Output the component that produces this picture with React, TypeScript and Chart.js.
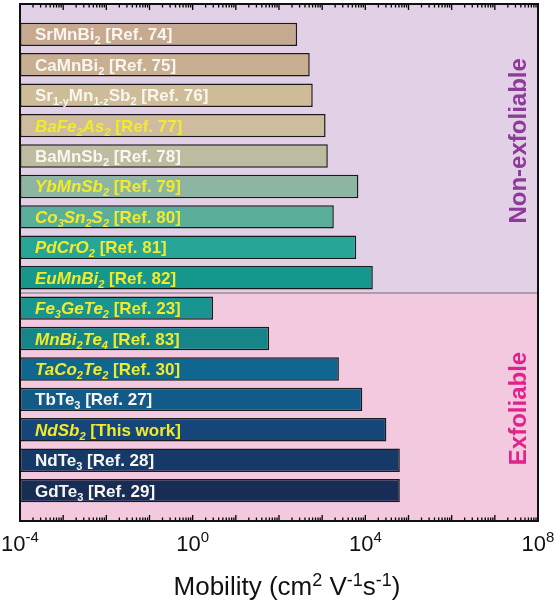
import { useEffect, useRef } from 'react';
import { Chart, registerables } from 'chart.js';

Chart.register(...registerables);

// formula markup: _x = one-char subscript, _{..} = longer subscript
const materials = [
  'SrMnBi_2', 'CaMnBi_2', 'Sr_{1-y}Mn_{1-z}Sb_2', 'BaFe_2As_2', 'BaMnSb_2',
  'YbMnSb_2', 'Co_3Sn_2S_2', 'PdCrO_2', 'EuMnBi_2',
  'Fe_3GeTe_2', 'MnBi_2Te_4', 'TaCo_2Te_2', 'TbTe_3', 'NdSb_2', 'NdTe_3', 'GdTe_3',
];
const references = [
  '[Ref. 74]', '[Ref. 75]', '[Ref. 76]', '[Ref. 77]', '[Ref. 78]',
  '[Ref. 79]', '[Ref. 80]', '[Ref. 81]', '[Ref. 82]',
  '[Ref. 23]', '[Ref. 83]', '[Ref. 30]', '[Ref. 27]', '[This work]', '[Ref. 28]', '[Ref. 29]',
];
// yellow italic labels
const highlighted = [
  false, false, false, true, false, true, true, true, true,
  true, true, true, false, true, false, false,
];
// mobility in cm^2 V^-1 s^-1
const mobility = [
  263, 515, 605, 1200, 1350, 6900, 1860, 6150, 14900,
  2.96, 59, 2440, 8500, 30700, 63000, 63000,
];
const barColors = [
  '#C6A98E', '#C9AF92', '#CEBC99', '#CDBC9E', '#BDBCA0',
  '#8DB6A2', '#5BAE9A', '#27A597', '#16978C',
  '#1A9490', '#15858A', '#0F6790', '#125A88', '#15467A', '#163A68', '#182D56',
];
const decadeLabels = [-4, 0, 4, 8];
const groups = ['Non-exfoliable', 'Exfoliable'];
const lastNonExfoliable = 8;

const FONT = '"Liberation Sans", Arial, sans-serif';
const WHITE = '#F8F6EF';
const YELLOW = '#F2EA2A';

const plain = (s: string) => s.replace(/_\{([^}]*)\}/g, '$1').replace(/_/g, '');
// blank slot at each end so the bars sit one step in from the frame
const categories = ['', ...materials.map((m, i) => plain(m) + ' ' + references[i]), ''];

function parseFormula(s: string) {
  const parts: { t: string; sub: boolean }[] = [];
  let buf = '';
  let i = 0;
  while (i < s.length) {
    if (s[i] === '_') {
      if (buf) parts.push({ t: buf, sub: false });
      buf = '';
      if (s[i + 1] === '{') {
        const end = s.indexOf('}', i);
        parts.push({ t: s.slice(i + 2, end), sub: true });
        i = end + 1;
      } else {
        parts.push({ t: s[i + 1], sub: true });
        i += 2;
      }
    } else {
      buf += s[i];
      i++;
    }
  }
  if (buf) parts.push({ t: buf, sub: false });
  return parts;
}

const decorations = {
  id: 'decorations',
  beforeDatasetsDraw(chart: any) {
    const { ctx, chartArea: a, scales } = chart;
    const y = scales.y;
    const split = (y.getPixelForValue(lastNonExfoliable + 1) + y.getPixelForValue(lastNonExfoliable + 2)) / 2;
    ctx.save();
    ctx.fillStyle = '#E2D0E7';
    ctx.fillRect(a.left, a.top, a.right - a.left, split - a.top);
    ctx.fillStyle = '#F2C9DF';
    ctx.fillRect(a.left, split, a.right - a.left, a.bottom - split);
    ctx.strokeStyle = '#9A8C9A';
    ctx.lineWidth = 1.5;
    ctx.beginPath();
    ctx.moveTo(a.left, split);
    ctx.lineTo(a.right, split);
    ctx.stroke();

    // group names on the right
    ctx.font = `bold 24px ${FONT}`;
    ctx.textAlign = 'center';
    ctx.textBaseline = 'middle';
    const gx = a.right - 19;
    [[groups[0], '#8C3B99', 4.5], [groups[1], '#E0228A', 13.3]].forEach(([text, color, pos]: any) => {
      ctx.save();
      ctx.translate(gx, y.getPixelForValue(pos));
      ctx.rotate(-Math.PI / 2);
      ctx.fillStyle = color;
      ctx.fillText(text, 0, 0);
      ctx.restore();
    });
    ctx.restore();
  },
  afterDatasetsDraw(chart: any) {
    const { ctx, chartArea: a, scales } = chart;
    const y = scales.y;
    const x = scales.x;
    ctx.save();
    ctx.textAlign = 'left';
    ctx.textBaseline = 'alphabetic';

    // bar labels
    materials.forEach((m, i) => {
      const italic = highlighted[i] ? 'italic ' : '';
      const base = y.getPixelForValue(i + 1) + 6;
      let px = a.left + 15;
      ctx.fillStyle = highlighted[i] ? YELLOW : WHITE;
      parseFormula(m).forEach((p) => {
        ctx.font = `${italic}bold ${p.sub ? 11 : 17}px ${FONT}`;
        ctx.fillText(p.t, px, p.sub ? base + 4 : base);
        px += ctx.measureText(p.t).width;
      });
      ctx.font = `bold 17px ${FONT}`;
      ctx.fillText(' ' + references[i], px, base);
    });

    // inward log ticks on top and bottom edges
    ctx.strokeStyle = '#000';
    ctx.lineWidth = 1.3;
    for (let d = -4; d <= 8; d++) {
      for (let k = 1; k <= 9; k++) {
        if (d === 8 && k > 1) break;
        const px = x.getPixelForValue(k * Math.pow(10, d));
        const len = k === 1 ? 6 : 3.5;
        ctx.beginPath();
        ctx.moveTo(px, a.bottom);
        ctx.lineTo(px, a.bottom - len);
        ctx.stroke();
        ctx.beginPath();
        ctx.moveTo(px, a.top);
        ctx.lineTo(px, a.top + len);
        ctx.stroke();
      }
    }

    // frame
    ctx.lineWidth = 2;
    ctx.strokeStyle = '#111';
    ctx.strokeRect(a.left, a.top, a.right - a.left, a.bottom - a.top);

    // tick labels 10^n
    ctx.fillStyle = '#111';
    decadeLabels.forEach((d) => {
      const sup = String(d);
      ctx.font = `22px ${FONT}`;
      const w1 = ctx.measureText('10').width;
      ctx.font = `15px ${FONT}`;
      const w2 = ctx.measureText(sup).width;
      const start = x.getPixelForValue(Math.pow(10, d)) - (w1 + w2) / 2;
      const base = a.bottom + 30;
      ctx.font = `22px ${FONT}`;
      ctx.fillText('10', start, base);
      ctx.font = `15px ${FONT}`;
      ctx.fillText(sup, start + w1, base - 9.5);
    });

    // axis title
    const segs: [string, boolean][] = [
      ['Mobility (cm', false], ['2', true], [' V', false], ['-1', true], ['s', false], ['-1', true], [')', false],
    ];
    let total = 0;
    segs.forEach(([t, s]) => {
      ctx.font = `${s ? 18 : 26}px ${FONT}`;
      total += ctx.measureText(t).width;
    });
    let tx = (a.left + a.right) / 2 + 8 - total / 2;
    const tb = a.bottom + 74;
    segs.forEach(([t, s]) => {
      ctx.font = `${s ? 18 : 26}px ${FONT}`;
      ctx.fillText(t, tx, s ? tb - 9 : tb);
      tx += ctx.measureText(t).width;
    });
    ctx.restore();
  },
};

export default function App() {
  const canvasRef = useRef<HTMLCanvasElement>(null);
  const chartRef = useRef<Chart | null>(null);

  useEffect(() => {
    if (!canvasRef.current) return;
    if (chartRef.current) chartRef.current.destroy();

    chartRef.current = new Chart(canvasRef.current, {
      type: 'bar',
      data: {
        labels: categories,
        datasets: [
          {
            data: [null, ...mobility, null],
            backgroundColor: ['transparent', ...barColors, 'transparent'],
            borderColor: '#1A1A1A',
            borderWidth: 1.5,
            borderSkipped: false,
            barPercentage: 0.77,
            categoryPercentage: 1,
          },
        ],
      },
      options: {
        indexAxis: 'y',
        animation: false,
        responsive: true,
        maintainAspectRatio: false,
        layout: { padding: { left: 20, right: 22, top: 4, bottom: 79 } },
        plugins: {
          legend: { display: false },
          tooltip: { enabled: false },
        },
        scales: {
          x: {
            type: 'logarithmic',
            min: 1e-4,
            max: 1e8,
            display: false,
          },
          y: {
            type: 'category',
            offset: false,
            display: false,
          },
        },
      },
      plugins: [decorations],
    });

    return () => {
      if (chartRef.current) {
        chartRef.current.destroy();
        chartRef.current = null;
      }
    };
  }, []);

  return (
    <div style={{ position: 'absolute', left: 0, top: 0, width: 560, height: 600, background: '#fff' }}>
      <canvas ref={canvasRef}></canvas>
    </div>
  );
}
